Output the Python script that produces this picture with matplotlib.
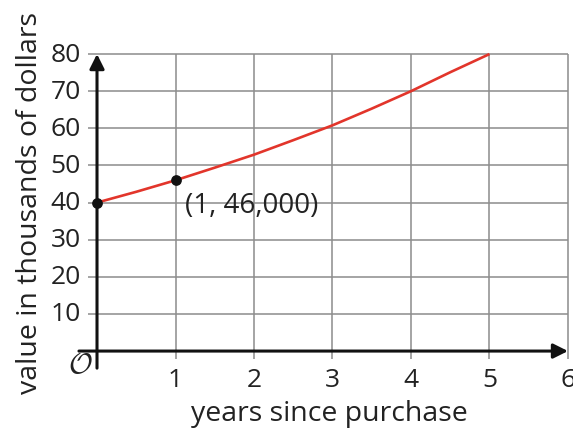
import numpy as np
import matplotlib.pyplot as plt

plt.rcParams['font.family'] = ['Open Sans', 'DejaVu Sans']

# values (thousands of dollars)
years = [0, 0.5, 1, 1.5, 2, 2.5, 3, 3.5, 4, 4.5, 5]
value = [40, 42.9, 46, 49.4, 52.9, 56.8, 60.8, 65.3, 70, 75.1, 80]
pts_x = [0, 1]
pts_y = [40, 46]
x_ticks = [1, 2, 3, 4, 5, 6]
y_ticks = [10, 20, 30, 40, 50, 60, 70, 80]

fig = plt.figure(figsize=(5.73, 4.35), dpi=100)
ax = fig.add_axes([0.1282, 0.148, 0.8699, 0.7425])
ax.set_xlim(-0.3, 6.05)
ax.set_ylim(-5, 82)
ax.axis('off')

grid = '#8c8c8c'
ax.hlines(y_ticks, -0.12, 6, color=grid, lw=1.1, zorder=1)
ax.vlines(x_ticks, -2.2, 80, color=grid, lw=1.1, zorder=1)

# axes with arrows
ax.annotate('', xy=(6, 0), xytext=(-0.23, 0),
            arrowprops=dict(arrowstyle='-|>', color='#111111', lw=2.2,
                            mutation_scale=22, shrinkA=0, shrinkB=0), zorder=3)
ax.annotate('', xy=(0, 80), xytext=(0, -4.6),
            arrowprops=dict(arrowstyle='-|>', color='#111111', lw=2.2,
                            mutation_scale=22, shrinkA=0, shrinkB=0), zorder=3)

for t in y_ticks:
    ax.text(-0.21, t, str(t), ha='right', va='center', fontsize=19, color='#222222')
for t in x_ticks:
    ax.text(t, -4.3, str(t), ha='center', va='top', fontsize=19, color='#222222')
ax.text(-0.06, -3.6, r'$\mathcal{O}$', ha='right', va='center', fontsize=21,
        math_fontfamily='cm', color='#222222')

ax.plot(years, value, color='#e2352b', lw=1.9, zorder=4, solid_capstyle='butt')
ax.scatter(pts_x, pts_y, s=45, color='#111111', zorder=5)
ax.text(1.12, 39.4, '(1, 46,000)', ha='left', va='center', fontsize=20, color='#222222')

fig.text(329 / 573, 1 - 414 / 435, 'years since purchase', ha='center', va='center',
         fontsize=20.5, color='#222222')
fig.text(30 / 573, 1 - 203 / 435, 'value in thousands of dollars', ha='center', va='center',
         rotation='vertical', fontsize=20.5, color='#222222')

fig.savefig('out.png', dpi=100)
